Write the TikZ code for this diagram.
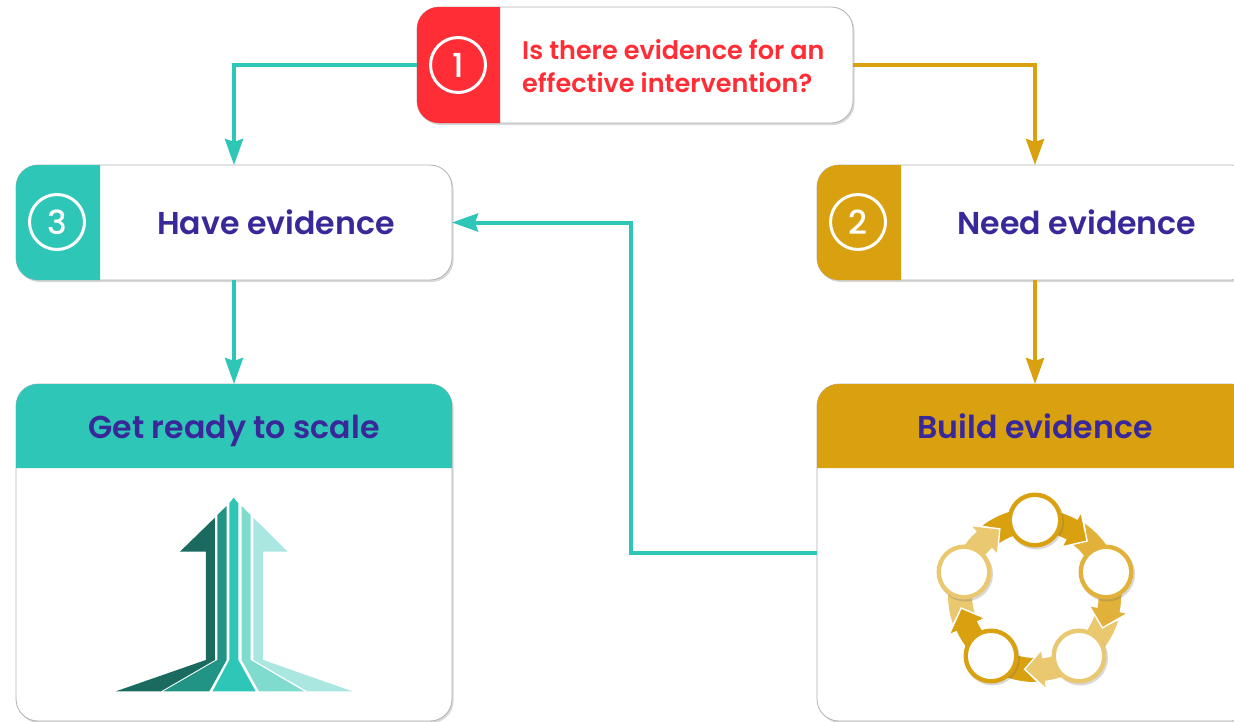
\documentclass[tikz,border=0pt]{standalone}
\usepackage{fontspec}
\setmainfont{Poppins Medium}[BoldFont={Poppins SemiBold}]
\usetikzlibrary{arrows.meta,shadows}
\definecolor{cred}{HTML}{FF2E36}
\definecolor{cteal}{HTML}{2EC6B6}
\definecolor{cgold}{HTML}{D9A010}
\definecolor{cmid}{HTML}{E2B13A}
\definecolor{clight}{HTML}{E9C870}
\definecolor{cind}{HTML}{38289A}
\definecolor{ta}{HTML}{1A6A60}
\definecolor{tb}{HTML}{229486}
\definecolor{td}{HTML}{80DBCF}
\definecolor{te}{HTML}{A9E7E0}
\tikzset{
  softshadow/.style={drop shadow={opacity=.25,shadow xshift=1.5pt,shadow yshift=-2pt,fill=black!60}},
  card/.style={draw=black!30,line width=.8pt,fill=white,rounded corners=22pt,softshadow,inner sep=0,outer sep=0,minimum width=436pt},
  badge/.style={circle,draw=white,line width=3pt,minimum size=55pt,inner sep=0,text=white,font=\fontsize{33}{33}\selectfont},
  lbl/.style={text=cind,font=\fontsize{31.6}{31.6}\selectfont\bfseries,inner sep=0,anchor=base},
  flow/.style={line width=4pt,-{Stealth[length=26pt,width=18pt,inset=3pt]}},
  ringc/.style={circle,minimum size=55pt,inner sep=0,line width=0pt,softshadow},
  ringi/.style={circle,minimum size=46pt,inner sep=0,fill=white},
}
\begin{document}
\begin{tikzpicture}[x=1pt,y=-1pt]
\useasboundingbox (0,0) rectangle (1234,721);
\clip (0,0) rectangle (1234,721);
\fill[white] (0,0) rectangle (1234,721);
% cards
\node[card,minimum height=116pt] (q) at (635,65) {};
\node[card,minimum height=115pt] (have) at (234,222.5) {};
\node[card,minimum height=115pt] (need) at (1035,222.5) {};
\node[card,minimum height=337pt] (ready) at (234,552.5) {};
\node[card,minimum height=337pt] (build) at (1035,552.5) {};
% tabs
\fill[cred] (500,123) [rounded corners=22pt] -- (417,123) -- (417,7) [sharp corners] -- (500,7) -- cycle;
\fill[cteal] (100,280) [rounded corners=22pt] -- (16,280) -- (16,165) [sharp corners] -- (100,165) -- cycle;
\fill[cgold] (901,280) [rounded corners=22pt] -- (817,280) -- (817,165) [sharp corners] -- (901,165) -- cycle;
\fill[cteal] (16,468) [rounded corners=22pt] -- (16,384) -- (452,384) [sharp corners] -- (452,468) -- cycle;
\fill[cgold] (817,468) [rounded corners=22pt] -- (817,384) -- (1253,384) [sharp corners] -- (1253,468) -- cycle;
% badges
\node[badge] (b1) at (458,65) {1};
\node[badge] (b3) at (57,222) {3};
\node[badge] (b2) at (858,222) {2};
% labels
\node[anchor=west,text=cred,font=\fontsize{25.5}{32.5}\selectfont\bfseries,align=left,inner sep=0] (qt) at (522,66) {Is there evidence for an\\effective intervention?};
\node[lbl] (t3) at (276,234) {Have evidence};
\node[lbl] (t2) at (1077,234) {Need evidence};
\node[lbl] (t4) at (234,438) {Get ready to scale};
\node[lbl] (t5) at (1035,438) {Build evidence};
% connectors
\draw[flow,cteal] (q.west) -| (have.north);
\draw[flow,cgold] (q.east) -| (need.north);
\draw[flow,cteal] (have.south) -- (ready.north);
\draw[flow,cgold] (need.south) -- (build.north);
\coordinate (bend) at (631,552.5);
\draw[flow,cteal] (build.west) -- (bend) |- (have.east);
% rising arrow icon
\begin{scope}[x=.3333pt,y=-.3333pt,shift={(300,1440)}]
\fill[ta] (240,215) -- (345,113) -- (345,540) -- (183,634) -- (48,634) -- (318,540) -- (318,215) -- cycle;
\fill[tb] (352,105) -- (380,78) -- (380,540) -- (328,634) -- (190,634) -- (352,540) -- cycle;
\fill[cteal] (388,70) -- (401,53) -- (415,70) -- (415,540) -- (467,634) -- (338,634) -- (388,540) -- cycle;
\fill[td] (425,78) -- (452,105) -- (452,540) -- (612,634) -- (477,634) -- (425,540) -- cycle;
\fill[te] (460,113) -- (563,215) -- (489,215) -- (489,540) -- (757,634) -- (622,634) -- (460,540) -- cycle;
\end{scope}
% cycle icon
\begin{scope}[shift={(1035,595)}]
\foreach \s/\cs/\ct in {90/cgold/cmid,18/cmid/clight,-54/clight/cgold,-126/cgold/clight,162/clight/cgold}{
  \pgfmathsetmacro{\tg}{\s-72}
  \pgfmathsetmacro{\h}{\s-44}
  \pgfmathsetmacro{\hb}{\s-29}
  \pgfmathsetmacro{\hn}{\s-35}
  \fill[\ct] (\hn:87pt) arc[start angle=\hn,end angle=\tg,radius=87pt] -- (\tg:63pt) arc[start angle=\tg,end angle=\hn,radius=63pt] -- (\h:75pt) -- cycle;
  \filldraw[\cs,draw=white,line width=1.4pt] (\s:87pt) arc[start angle=\s,end angle=\hb,radius=87pt] -- (\hb:95pt) -- (\h:75pt) -- (\hb:55pt) -- (\hb:63pt) arc[start angle=\hb,end angle=\s,radius=63pt] -- cycle;
}
\end{scope}
\foreach \n/\x/\y/\c in {c1/1035/520/cgold,c2/1106/572/cmid,c3/1079/656/clight,c4/991/656/cgold,c5/964/572/clight}{
  \node[ringc,fill=\c] (\n) at (\x,\y) {};
  \node[ringi] (\n i) at (\x,\y) {};
}
\end{tikzpicture}
\end{document}
